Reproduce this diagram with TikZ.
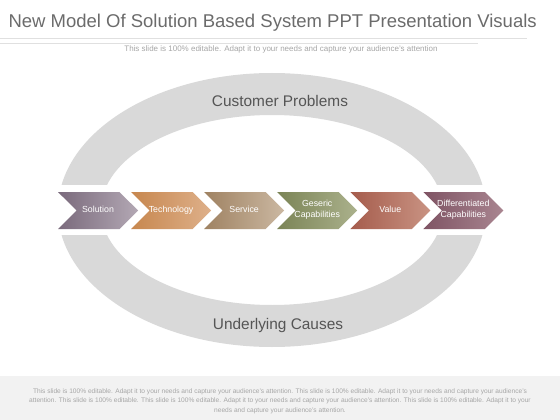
\documentclass[tikz,border=0pt]{standalone}
\usepackage{fontspec}
\setmainfont{Liberation Sans}
\usetikzlibrary{positioning,shapes.symbols}
\definecolor{titlegray}{HTML}{6B6B6B}
\definecolor{ringgray}{HTML}{D9D9D9}
\definecolor{labelgray}{HTML}{555555}
\definecolor{notegray}{HTML}{A6A6A6}
\definecolor{footbg}{HTML}{F2F2F2}

\begin{document}
\begin{tikzpicture}[
    x=1pt, y=-1pt,
    chevlabel/.style={align=center, text=white, font=\fontsize{8.8}{10.5}\selectfont, inner sep=0pt,
      execute at begin node=\strut, execute at end node=\strut},
    chevron/.style={signal, signal from=west, signal to=east, signal pointer angle=90,
      minimum width=80pt, minimum height=37pt, inner sep=0pt,
      label={[chevlabel]center:#1}},
    ringlabel/.style={text=labelgray, font=\fontsize{15.4}{18}\selectfont},
    note/.style={text=notegray, align=center}
  ]
  \useasboundingbox (0,0) rectangle (560,420);

  % Title and subtitle
  \node[text=titlegray, font=\fontsize{18.5}{22}\selectfont, anchor=west] (title) at (5,23)
    {New Model Of Solution Based System PPT Presentation Visuals};
  \draw[line width=1.2pt, black!12] (0,38.5) -- (527,38.5);
  \draw[line width=0.5pt, black!12] (0,43) -- (478,43);
  \node[note, font=\fontsize{8}{9}\selectfont] (subtitle) at (281,49.5)
    {This slide is 100\% editable. Adapt it to your needs and capture your audience's attention};

  % Ring
  \fill[ringgray, even odd rule] (272,210) ellipse [x radius=214, y radius=137]
    (272,210) ellipse [x radius=171, y radius=95];
  \fill[white] (40,185) rectangle (520,235);
  \node[ringlabel] (problems) at (280,101) {Customer Problems};
  \node[ringlabel] (causes) at (278,326) {Underlying Causes};

  % Chevrons
  \node[chevron={Solution}, left color={rgb,255:red,122;green,106;blue,124},
    right color={rgb,255:red,179;green,168;blue,180}] (solution) at (98,210.5) {};
  \node[chevron={Technology}, left color={rgb,255:red,199;green,135;blue,79},
    right color={rgb,255:red,222;green,176;blue,138}, right=11pt of solution] (technology) {};
  \node[chevron={Service}, left color={rgb,255:red,159;green,130;blue,98},
    right color={rgb,255:red,203;green,184;blue,162}, right=11pt of technology] (service) {};
  \node[chevron={Geseric\\Capabilities}, left color={rgb,255:red,123;green,132;blue,86},
    right color={rgb,255:red,171;green,177;blue,140}, right=11pt of service] (generic) {};
  \node[chevron={Value}, left color={rgb,255:red,165;green,92;blue,76},
    right color={rgb,255:red,201;green,147;blue,131}, right=11pt of generic] (value) {};
  \node[chevron={Differentiated\\Capabilities}, left color={rgb,255:red,127;green,84;blue,100},
    right color={rgb,255:red,169;green,133;blue,144}, right=11pt of value] (differentiated) {};

  % Footer
  \fill[footbg] (0,376) rectangle (560,420);
  \node[note, font=\fontsize{6.6}{9.4}\selectfont] (footer) at (280,401)
    {This slide is 100\% editable. Adapt it to your needs and capture your audience's attention. This slide is 100\% editable. Adapt it to your needs and capture your audience's\\
     attention. This slide is 100\% editable. This slide is 100\% editable. Adapt it to your needs and capture your audience's attention. This slide is 100\% editable. Adapt it to your\\
     needs and capture your audience's attention.};
\end{tikzpicture}
\end{document}
